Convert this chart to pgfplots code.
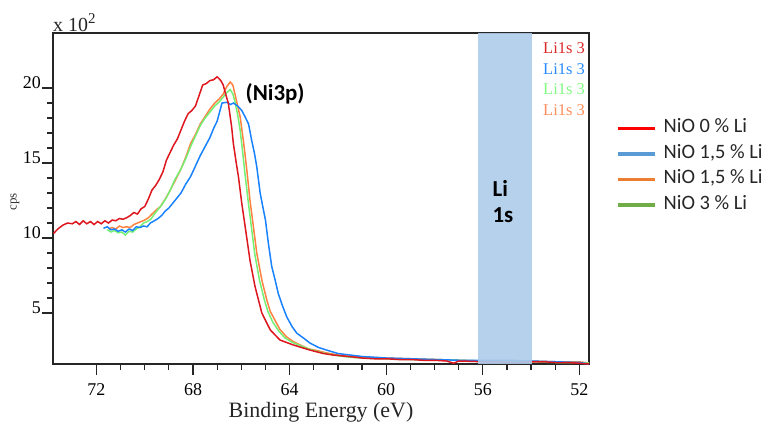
\documentclass[border=0pt]{standalone}
\usepackage{fontspec}
\setmainfont{Liberation Serif}
\newfontfamily\carlito{Carlito}
\usepackage{pgfplots}
\pgfplotsset{compat=1.18}
\definecolor{cred}{RGB}{222,22,30}
\definecolor{cblue}{RGB}{25,130,255}
\definecolor{cgreen}{RGB}{115,240,115}
\definecolor{corange}{RGB}{255,130,65}
\definecolor{lred}{RGB}{255,0,0}
\definecolor{lblue}{RGB}{91,155,213}
\definecolor{lorange}{RGB}{237,125,49}
\definecolor{lgreen}{RGB}{112,173,71}
\definecolor{tred}{RGB}{220,40,40}
\definecolor{tblue}{RGB}{40,140,255}
\definecolor{tgreen}{RGB}{130,250,130}
\definecolor{torange}{RGB}{255,140,90}
\definecolor{band}{RGB}{174,204,234}
\begin{document}
\begin{tikzpicture}[x=1bp,y=1bp]
\path[use as bounding box] (0,0) rectangle (770,425);
\begin{axis}[
  at={(53bp,61bp)}, anchor=south west,
  scale only axis, width=536bp, height=331bp,
  x dir=reverse, xmin=51.6, xmax=73.8, ymin=1.6, ymax=23.67,
  xtick={52,56,60,64,68,72}, ytick={5,10,15,20},
  minor x tick num=3, minor y tick num=4,
  every tick/.append style={line width=1.2bp, black!85},
  tick align=outside, xtick pos=bottom, ytick pos=left,
  major tick length=11bp, minor tick length=6bp,
  axis line style={line width=1.5bp, black!85},
  /pgf/number format/assume math mode=true,
  ticklabel style={font=\fontsize{18}{20}\selectfont, inner sep=0pt},
  xticklabel style={anchor=base, yshift=-20bp},
  yticklabel style={anchor=base east, xshift=-1bp},
  legend style={at={(1.0504,0.734)}, anchor=north west, draw=none, fill=none,
    inner sep=0pt, row sep=11bp, column sep=7bp,
    font=\carlito\fontsize{20.5}{22}\selectfont, text=black!85,
    nodes={inner sep=0pt, text height=11.5bp, text depth=3bp}},
  legend cell align=left,
  legend image code/.code={\draw[#1, line width=3.5bp] (0bp,0bp) -- (37bp,0bp);},
  clip=true,
]
\addlegendimage{lred}\addlegendentry{NiO 0 \% Li}
\addlegendimage{lblue}\addlegendentry{NiO 1,5 \% Li}
\addlegendimage{lorange}\addlegendentry{NiO 1,5 \% Li}
\addlegendimage{lgreen}\addlegendentry{NiO 3 \% Li}

% orange
\addplot[corange, line width=1.5bp, forget plot] coordinates {
(71.5,10.6)(71.35,10.7)(71.2,10.6)(71.05,10.8)(70.9,10.7)(70.75,10.75)(70.6,10.7)(70.45,10.9)
(70.3,11.0)(70.15,11.1)(70.0,11.2)(69.85,11.35)(69.7,11.6)(69.5,11.9)(69.35,12.1)(69.15,12.6)
(68.94,13.2)(68.75,13.8)(68.5,14.6)(68.3,15.4)(68.1,16.3)(67.9,16.9)(67.7,17.6)(67.5,18.1)
(67.3,18.6)(67.1,19.0)(66.9,19.3)(66.75,19.6)(66.6,20.1)(66.46,20.4)(66.35,20.2)(66.25,19.5)
(66.15,18.8)(66.05,18.1)(65.9,16.3)(65.77,14.5)(65.64,12.5)(65.5,10.75)(65.36,9.0)(65.15,7.2)
(64.95,5.9)(64.8,5.1)(64.6,4.5)(64.4,3.9)(64.12,3.4)(63.85,3.1)(63.57,2.87)(63.2,2.6)
(62.88,2.5)(62.5,2.35)(62.0,2.2)(61.5,2.1)(61.0,2.05)(60.0,2.0)(59.0,1.95)(58.0,1.9)
(57.0,1.85)(56.0,1.8)(55.0,1.8)(54.0,1.8)(53.0,1.75)(52.0,1.75)(51.6,1.65)};
% green
\addplot[cgreen, line width=1.5bp, forget plot] coordinates {
(71.55,10.55)(71.4,10.4)(71.25,10.5)(71.1,10.35)(70.95,10.4)(70.8,10.2)(70.65,10.45)(70.5,10.4)
(70.35,10.6)(70.2,10.75)(70.05,11.0)(69.9,11.1)(69.75,11.25)(69.6,11.6)(69.45,11.9)(69.3,12.2)
(69.1,12.7)(68.94,13.2)(68.75,13.9)(68.5,14.6)(68.3,15.3)(68.1,16.1)(67.9,16.8)(67.7,17.5)
(67.5,18.0)(67.3,18.4)(67.1,18.8)(66.9,19.1)(66.75,19.4)(66.6,19.7)(66.46,19.9)(66.35,19.6)
(66.25,19.0)(66.15,18.2)(66.05,17.2)(65.95,15.8)(65.85,14.3)(65.72,12.5)(65.58,10.7)(65.45,9.0)
(65.25,7.2)(65.05,5.9)(64.9,5.1)(64.7,4.4)(64.45,3.8)(64.2,3.35)(63.9,3.05)(63.6,2.85)
(63.2,2.6)(62.9,2.45)(62.5,2.3)(62.0,2.15)(61.5,2.05)(61.0,2.0)(60.0,1.95)(59.0,1.9)
(58.0,1.9)(57.0,1.85)(56.0,1.8)(55.0,1.8)(54.0,1.75)(53.0,1.7)(52.0,1.7)(51.6,1.65)};
% blue
\addplot[cblue, line width=1.5bp, forget plot] coordinates {
(71.71,10.65)(71.55,10.75)(71.4,10.55)(71.25,10.6)(71.1,10.45)(70.95,10.55)(70.8,10.4)(70.65,10.6)
(70.5,10.5)(70.35,10.75)(70.2,10.7)(70.05,10.8)(69.9,10.75)(69.77,11.0)(69.6,11.15)(69.45,11.3)
(69.3,11.5)(69.15,11.8)(69.0,12.0)(68.85,12.3)(68.7,12.6)(68.5,13.0)(68.3,13.6)(68.1,14.1)
(67.9,14.8)(67.7,15.5)(67.5,16.1)(67.3,16.7)(67.15,17.3)(67.0,17.8)(66.9,18.4)(66.8,19.0)
(66.6,19.05)(66.45,18.9)(66.33,19.0)(66.15,18.8)(65.98,18.5)(65.85,18.1)(65.7,17.6)(65.57,16.5)
(65.45,15.6)(65.36,14.75)(65.22,13.0)(65.1,12.0)(65.0,11.2)(64.88,9.65)(64.74,8.1)(64.6,7.2)
(64.47,6.3)(64.3,5.5)(64.12,4.75)(63.9,4.1)(63.7,3.65)(63.4,3.3)(63.16,3.0)(62.8,2.7)
(62.47,2.53)(62.0,2.3)(61.5,2.2)(61.0,2.1)(60.5,2.05)(60.0,2.0)(59.0,1.95)(58.0,1.9)
(57.0,1.85)(56.0,1.85)(55.0,1.85)(54.0,1.8)(53.0,1.75)(52.0,1.7)(51.6,1.6)};
% red
\addplot[cred, line width=1.5bp, forget plot] coordinates {
(73.78,10.3)(73.6,10.6)(73.4,10.85)(73.2,11.0)(73.0,10.95)(72.85,11.1)(72.7,10.9)(72.55,11.15)
(72.4,10.95)(72.25,11.1)(72.1,10.9)(71.95,11.1)(71.8,10.95)(71.65,11.15)(71.5,11.0)(71.35,11.2)
(71.2,11.15)(71.05,11.3)(70.9,11.25)(70.75,11.35)(70.6,11.5)(70.45,11.7)(70.3,11.6)(70.15,11.95)
(70.0,12.1)(69.85,12.6)(69.7,13.2)(69.55,13.5)(69.4,13.9)(69.25,14.4)(69.1,15.2)(68.95,15.7)
(68.8,16.2)(68.65,16.6)(68.5,17.2)(68.35,17.8)(68.2,18.3)(68.05,18.5)(67.9,18.8)(67.75,19.5)
(67.6,20.2)(67.45,20.3)(67.3,20.5)(67.15,20.55)(67.0,20.75)(66.85,20.5)(66.75,20.2)(66.65,19.6)
(66.54,19.0)(66.4,17.4)(66.33,16.3)(66.2,14.9)(66.12,14.1)(65.98,12.3)(65.84,10.75)(65.64,8.5)
(65.43,6.75)(65.15,5.0)(64.8,3.87)(64.4,3.2)(63.85,2.87)(63.16,2.53)(62.6,2.3)(62.2,2.2)
(61.5,2.09)(61.0,2.0)(60.5,1.95)(60.0,1.95)(59.5,1.9)(59.0,1.9)(58.5,1.85)(58.0,1.85)
(57.5,1.8)(57.2,1.65)(57.0,1.8)(56.5,1.78)(56.0,1.75)(55.5,1.75)(55.0,1.72)(54.5,1.7)
(54.0,1.75)(53.5,1.75)(53.0,1.7)(52.5,1.7)(52.0,1.65)(51.6,1.6)};
% Li 1s band
\addplot[fill=band, draw=none, fill opacity=0.9, forget plot] coordinates {
(56.2,1.6)(56.2,23.67)(53.95,23.67)(53.95,1.6)} -- cycle;

\node[font=\carlito\bfseries\fontsize{23}{26}\selectfont] at (axis cs:64.6,19.6) {(Ni3p)};
\node[anchor=west, inner sep=0pt, font=\carlito\bfseries\fontsize{23}{26}\selectfont] at (axis cs:55.6,13.3) {Li};
\node[anchor=west, inner sep=0pt, font=\carlito\bfseries\fontsize{23}{26}\selectfont] at (axis cs:55.6,11.53) {1s};

\node[anchor=east, inner sep=0pt, text=tred, font=\fontsize{16.5}{18}\selectfont] at (rel axis cs:0.9925,0.955) {Li1s 3};
\node[anchor=east, inner sep=0pt, text=tblue, font=\fontsize{16.5}{18}\selectfont] at (rel axis cs:0.9925,0.891) {Li1s 3};
\node[anchor=east, inner sep=0pt, text=tgreen, font=\fontsize{16.5}{18}\selectfont] at (rel axis cs:0.9925,0.831) {Li1s 3};
\node[anchor=east, inner sep=0pt, text=torange, font=\fontsize{16.5}{18}\selectfont] at (rel axis cs:0.9925,0.767) {Li1s 3};
\end{axis}
\node[anchor=base west, inner sep=0pt, text=black!85, font=\fontsize{20}{22}\selectfont] at (53,393.5) {x 10\raisebox{7.5bp}{\fontsize{15}{16}\selectfont 2}};
\node[rotate=90, inner sep=0pt, text=black!80, font=\fontsize{13}{14}\selectfont] at (15,223) {cps};
\node[anchor=base, inner sep=0pt, text=black!85, font=\fontsize{22}{24}\selectfont] at (321,7.5) {Binding Energy (eV)};
\end{tikzpicture}
\end{document}
